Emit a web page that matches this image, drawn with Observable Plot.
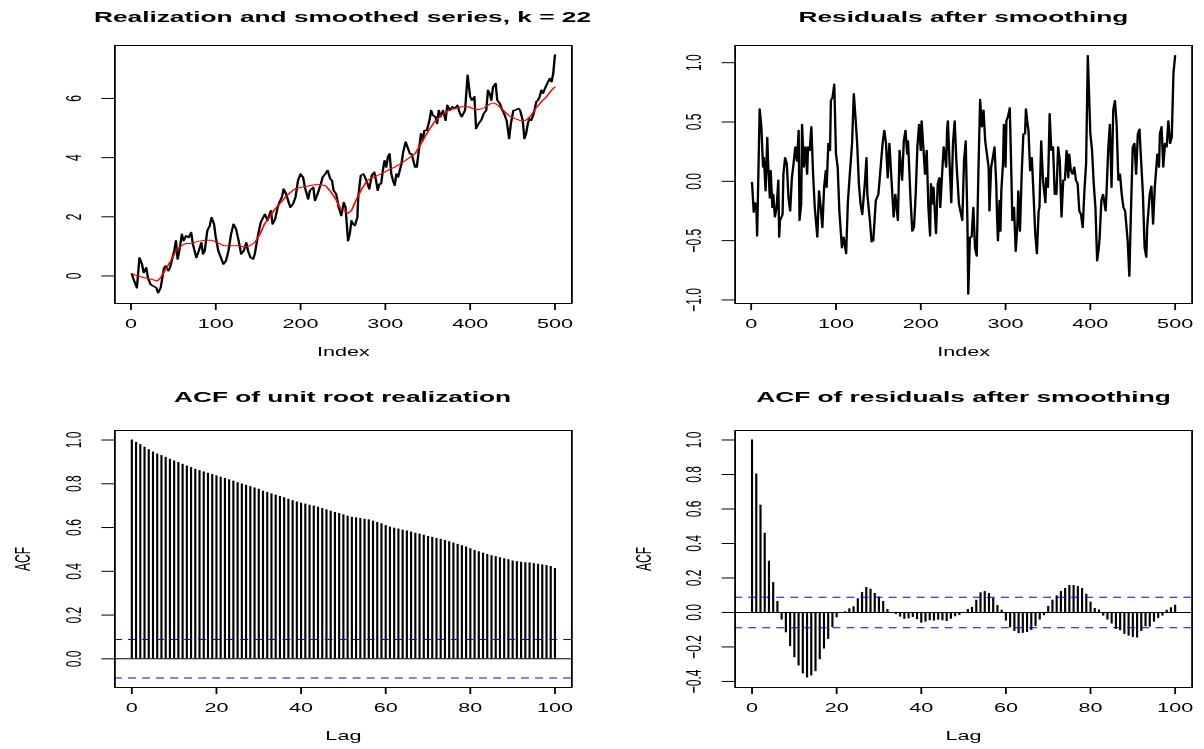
<!DOCTYPE html>
<html><head><meta charset="utf-8">
<script src="https://cdn.jsdelivr.net/npm/d3@7"></script>
<script src="https://cdn.jsdelivr.net/npm/@observablehq/plot@0.6"></script>
<style>
html,body{margin:0;padding:0;background:#fff;overflow:hidden;}
#stage{position:absolute;left:0;top:0;width:668.89px;height:749px;transform:scaleX(1.8);transform-origin:0 0;font-family:"Liberation Sans",Arial,Helvetica,sans-serif;}
.title{position:absolute;font-weight:bold;font-size:14.6px;line-height:14.6px;text-align:center;white-space:nowrap;color:#000;}
</style></head><body><div id="stage"></div>
<script>
// ---------------- data ----------------
const titles = ["Realization and smoothed series, k = 22", "Residuals after smoothing", "ACF of unit root realization", "ACF of residuals after smoothing"];
const indexTicks = [0, 100, 200, 300, 400, 500];
const lagTicks = [0, 20, 40, 60, 80, 100];
const realTicks = [0, 2, 4, 6];
const residTicks = [-1.0, -0.5, 0.0, 0.5, 1.0];
const acfRealTicks = [0.0, 0.2, 0.4, 0.6, 0.8, 1.0];
const acfResidTicks = [-0.4, -0.2, 0.0, 0.2, 0.4, 0.6, 0.8, 1.0];

// realization [index, value]
const realization = [[1,0.08],[3,-0.11],[7,-0.40],[10,0.62],[13,0.40],[15,0.11],[18,0.28],[20,-0.06],[23,-0.28],[26,-0.34],[30,-0.40],[32,-0.57],[35,-0.40],[37,-0.06],[39,0.28],[41,0.34],[44,0.17],[46,0.28],[51,0.85],[53,1.19],[55,0.57],[57,0.85],[60,1.41],[62,1.19],[65,1.36],[68,1.30],[71,1.47],[73,1.08],[77,0.62],[80,0.85],[83,1.13],[85,0.74],[87,0.85],[90,1.53],[93,1.70],[95,1.98],[98,1.75],[100,1.30],[103,0.85],[106,0.62],[109,0.40],[112,0.51],[115,0.85],[118,1.41],[121,1.75],[124,1.58],[127,1.19],[130,0.74],[133,0.85],[136,1.13],[138,0.85],[141,0.62],[144,0.57],[146,0.74],[150,1.41],[153,1.81],[156,1.98],[158,2.09],[161,1.87],[165,2.21],[167,1.75],[170,1.92],[173,2.32],[175,2.49],[178,2.66],[180,2.94],[183,2.77],[186,2.49],[188,2.32],[191,2.43],[194,2.66],[197,3.23],[200,3.45],[203,3.34],[205,3.00],[209,2.60],[211,2.89],[215,3.00],[217,2.55],[220,2.77],[224,3.11],[226,3.34],[229,3.45],[232,3.57],[235,3.28],[237,3.23],[239,2.89],[242,2.77],[245,2.32],[248,2.04],[251,2.49],[253,2.32],[256,1.19],[258,1.41],[260,1.87],[262,1.75],[264,1.70],[267,1.98],[268,2.66],[271,3.40],[274,3.45],[276,3.34],[279,3.11],[281,2.94],[284,3.40],[287,3.51],[289,3.23],[291,2.89],[293,3.11],[295,3.11],[297,3.57],[299,3.90],[301,3.68],[303,4.02],[305,4.13],[307,3.45],[309,3.23],[311,3.06],[313,3.45],[315,3.34],[317,3.57],[319,3.79],[321,4.19],[324,4.53],[326,4.36],[329,4.13],[331,4.13],[333,3.90],[335,3.68],[337,3.68],[339,4.13],[342,4.81],[344,4.58],[346,4.92],[349,4.92],[352,5.26],[354,5.60],[356,5.43],[359,5.38],[361,5.15],[363,5.60],[365,5.38],[368,5.60],[371,5.26],[373,5.77],[376,5.60],[379,5.72],[382,5.66],[385,5.77],[388,5.49],[390,5.38],[394,5.60],[397,6.79],[400,6.06],[402,5.94],[405,6.06],[407,4.98],[410,5.15],[413,5.26],[416,5.49],[419,5.60],[421,6.28],[423,6.17],[425,5.94],[427,6.39],[430,6.51],[432,5.94],[435,5.83],[438,5.60],[440,5.49],[443,5.26],[446,4.64],[448,5.15],[451,5.60],[453,5.60],[457,5.66],[459,5.60],[462,5.26],[464,4.64],[466,4.81],[468,5.15],[470,5.32],[472,5.26],[475,5.49],[478,5.89],[480,5.94],[482,6.06],[484,6.28],[486,6.17],[489,6.39],[491,6.51],[494,6.68],[496,6.56],[498,6.85],[500,7.47]];

// smoothed series (k = 22) [index, value]
const smoothed = [[1,0.08],[8,0.00],[16,-0.06],[24,-0.11],[31,-0.17],[35,-0.06],[41,0.23],[47,0.51],[53,0.85],[59,1.02],[65,1.10],[71,1.10],[79,1.17],[87,1.21],[95,1.21],[102,1.13],[110,1.02],[118,1.02],[126,1.02],[134,0.98],[140,1.02],[146,1.13],[152,1.41],[157,1.73],[163,1.98],[169,2.23],[177,2.49],[185,2.75],[193,2.94],[201,3.00],[209,3.04],[217,3.08],[224,3.09],[230,3.04],[236,2.83],[242,2.57],[248,2.23],[252,2.21],[256,2.12],[260,2.21],[266,2.60],[272,2.94],[279,3.23],[287,3.36],[295,3.45],[303,3.57],[311,3.68],[319,3.81],[327,3.97],[335,4.13],[342,4.47],[350,4.87],[358,5.21],[366,5.43],[374,5.58],[382,5.66],[390,5.72],[398,5.72],[405,5.63],[411,5.63],[417,5.69],[423,5.81],[428,5.85],[433,5.77],[439,5.60],[445,5.43],[453,5.32],[460,5.24],[466,5.26],[472,5.43],[478,5.69],[484,5.89],[490,6.06],[496,6.28],[500,6.39]];

// residuals [index, value]
const residuals = [[1,-0.01],[3,-0.26],[4,-0.18],[6,-0.19],[7,-0.46],[8,-0.11],[10,0.61],[12,0.46],[14,0.12],[15,0.20],[17,-0.08],[19,0.37],[20,0.15],[22,-0.14],[23,0.09],[25,-0.22],[26,-0.11],[28,-0.30],[30,-0.22],[32,0.01],[33,-0.47],[34,-0.33],[37,-0.28],[38,0.06],[40,0.20],[42,0.15],[44,-0.14],[46,-0.25],[48,0.03],[50,0.15],[52,0.29],[54,0.17],[56,0.43],[57,-0.33],[59,-0.19],[60,0.48],[62,0.12],[64,0.29],[66,0.06],[67,0.29],[69,0.26],[71,0.46],[73,0.06],[75,-0.22],[78,-0.47],[80,-0.08],[82,-0.22],[84,-0.39],[86,-0.05],[88,0.09],[89,-0.05],[91,0.32],[93,0.26],[94,0.68],[96,0.71],[98,0.82],[100,0.23],[102,0.12],[104,-0.25],[107,-0.56],[109,-0.47],[112,-0.61],[114,-0.18],[116,0.03],[119,0.32],[121,0.74],[123,0.54],[125,0.32],[127,-0.02],[129,-0.19],[131,-0.28],[134,-0.02],[136,0.20],[137,-0.11],[140,-0.33],[142,-0.51],[144,-0.50],[147,-0.16],[150,-0.11],[152,0.06],[155,0.32],[157,0.43],[159,0.32],[161,0.03],[163,0.32],[166,-0.05],[168,-0.30],[170,-0.11],[173,-0.33],[175,0.26],[178,0.01],[180,0.34],[182,0.43],[184,0.23],[185,0.34],[188,-0.16],[190,-0.42],[192,-0.39],[194,-0.11],[196,0.29],[198,0.48],[200,0.26],[201,0.51],[203,0.29],[205,0.06],[207,0.26],[209,-0.22],[211,-0.46],[212,-0.02],[214,-0.19],[215,-0.05],[218,-0.44],[220,-0.02],[222,0.03],[223,-0.22],[226,0.17],[227,0.29],[230,0.12],[231,0.43],[232,0.51],[234,0.15],[236,-0.18],[238,0.32],[240,0.51],[242,0.17],[245,-0.19],[247,-0.26],[249,-0.33],[251,0.17],[253,0.34],[255,-0.33],[256,-0.95],[258,-0.47],[260,-0.47],[262,-0.22],[264,-0.56],[266,-0.63],[268,0.09],[270,0.69],[272,0.46],[274,0.60],[276,0.34],[278,0.23],[280,0.12],[281,-0.25],[283,0.12],[285,0.20],[287,0.29],[289,-0.02],[290,-0.30],[291,-0.50],[293,-0.16],[294,-0.42],[295,-0.08],[297,0.15],[298,0.48],[300,0.12],[301,0.51],[303,0.55],[305,0.62],[307,0.01],[308,-0.33],[310,-0.22],[312,-0.59],[314,-0.36],[315,-0.08],[317,-0.42],[319,0.06],[321,0.40],[323,0.40],[324,0.61],[326,0.48],[327,0.43],[329,0.09],[331,0.20],[333,-0.11],[335,-0.44],[337,-0.61],[339,-0.25],[340,-0.22],[342,0.34],[344,0.03],[345,-0.05],[347,-0.18],[348,0.03],[350,-0.05],[352,0.57],[354,0.26],[356,0.29],[358,-0.11],[360,-0.11],[362,0.29],[364,0.17],[366,-0.30],[368,0.01],[370,0.01],[372,0.26],[374,0.03],[375,0.23],[377,0.09],[379,0.06],[381,0.12],[383,0.01],[385,-0.02],[387,-0.25],[389,-0.28],[391,-0.39],[393,-0.08],[395,0.15],[397,1.06],[400,0.40],[402,0.26],[404,-0.02],[406,-0.22],[408,-0.67],[410,-0.56],[411,-0.47],[413,-0.16],[415,-0.11],[418,-0.25],[419,-0.11],[421,0.26],[423,0.48],[425,-0.05],[427,0.60],[429,0.68],[431,0.48],[433,0.01],[435,0.06],[437,-0.11],[439,-0.22],[441,-0.25],[444,-0.50],[446,-0.80],[448,-0.22],[450,0.29],[452,0.32],[454,0.06],[456,0.40],[458,0.44],[459,0.29],[462,-0.11],[464,-0.56],[466,-0.64],[467,-0.39],[470,-0.11],[472,-0.04],[474,-0.36],[476,-0.05],[479,0.23],[481,0.12],[482,0.40],[484,0.46],[486,0.12],[488,0.32],[490,0.29],[492,0.51],[494,0.32],[496,0.37],[498,0.91],[500,1.06]];

// autocorrelations, lags 0..100
const acfRealization = [1.000,0.989,0.979,0.967,0.956,0.945,0.936,0.929,0.921,0.912,
0.904,0.897,0.889,0.881,0.874,0.866,0.860,0.854,0.848,0.842,
0.836,0.830,0.824,0.818,0.812,0.805,0.799,0.793,0.787,0.781,
0.775,0.766,0.760,0.754,0.748,0.742,0.736,0.729,0.723,0.717,
0.711,0.707,0.702,0.698,0.693,0.687,0.681,0.675,0.669,0.664,
0.658,0.652,0.647,0.644,0.641,0.638,0.635,0.629,0.623,0.617,
0.609,0.602,0.597,0.593,0.588,0.584,0.579,0.574,0.570,0.565,
0.559,0.555,0.550,0.546,0.541,0.535,0.529,0.523,0.517,0.511,
0.503,0.495,0.489,0.483,0.477,0.471,0.467,0.462,0.457,0.453,
0.447,0.444,0.441,0.439,0.438,0.435,0.432,0.429,0.426,0.422,
0.413];
const acfResiduals = [1.000,0.803,0.622,0.459,0.297,0.173,0.064,-0.044,-0.118,-0.198,
-0.262,-0.310,-0.356,-0.380,-0.368,-0.343,-0.274,-0.212,-0.156,-0.087,
-0.031,-0.004,0.004,0.021,0.033,0.079,0.116,0.145,0.135,0.110,
0.089,0.064,0.017,-0.004,-0.012,-0.027,-0.040,-0.037,-0.029,-0.042,
-0.062,-0.056,-0.048,-0.050,-0.044,-0.048,-0.052,-0.039,-0.025,-0.017,
-0.004,0.017,0.029,0.071,0.114,0.121,0.110,0.081,0.040,0.013,
-0.050,-0.089,-0.110,-0.123,-0.121,-0.116,-0.104,-0.081,-0.044,-0.019,
0.035,0.071,0.096,0.121,0.139,0.156,0.156,0.150,0.139,0.106,
0.060,0.023,0.015,-0.021,-0.044,-0.067,-0.098,-0.106,-0.127,-0.137,
-0.145,-0.148,-0.110,-0.083,-0.085,-0.056,-0.035,-0.021,0.013,0.027,
0.042];
const ciBound = 0.088; // dashed significance bounds (±)

// ---------------- drawing ----------------
const FONT = '"Liberation Sans", Arial, Helvetica, sans-serif';
const stage = document.getElementById("stage");
const PW = 334.44; // panel width in unscaled units (page is stretched 1.8x horizontally)
const fmt1 = d3.format(".1f");

function panel(o) {
  const marks = [
    ...o.marks,
    Plot.frame({stroke: "black", strokeWidth: 1}),
    Plot.axisX({ticks: o.xTicks, tickSize: 7, tickPadding: 9, tickFormat: d => String(d), label: null}),
    Plot.axisY({ticks: o.yTicks, tickSize: 7, tickPadding: 12, tickRotate: -90, textAnchor: "middle", lineAnchor: "bottom", tickFormat: o.yFmt, label: null}),
    Plot.text([o.xLabel], {text: d => d, frameAnchor: "bottom", dy: 44, lineAnchor: "top"})
  ];
  if (o.yLabel) marks.push(Plot.text([o.yLabel], {text: d => d, frameAnchor: "left", dx: -47, rotate: -90, textAnchor: "middle", lineAnchor: "bottom"}));
  const svg = Plot.plot({
    width: PW, height: o.height,
    marginTop: o.mt, marginBottom: o.mb, marginLeft: o.ml, marginRight: o.mr,
    x: {domain: o.xDomain},
    y: {domain: o.yDomain},
    style: {fontFamily: FONT, fontSize: "12px", background: "transparent", color: "black", overflow: "visible"},
    marks
  });
  svg.style.position = "absolute";
  svg.style.left = o.left + "px";
  svg.style.top = o.top + "px";
  stage.appendChild(svg);
  // title centred over the plotting box
  const t = document.createElement("div");
  t.className = "title";
  t.textContent = o.title;
  const cx = o.left + (o.ml + PW - o.mr) / 2;
  t.style.left = (cx - 200) + "px";
  t.style.width = "400px";
  t.style.top = o.titleTop + "px";
  stage.appendChild(t);
}

const lags = acfRealization.map((_, i) => i);
const idxDomain = [-18.96, 519.96];
const lagDomain = [-4, 104];

panel({
  left: 0, top: 30, height: 344, mt: 15, mb: 71, ml: 63.33, mr: 17.22, titleTop: 9.9,
  title: titles[0], xDomain: idxDomain, yDomain: [-0.93, 7.79],
  xTicks: indexTicks, yTicks: realTicks, yFmt: d => String(d), xLabel: "Index",
  marks: [
    Plot.line(realization, {x: d => d[0], y: d => d[1], stroke: "black", strokeWidth: 1.3}),
    Plot.line(smoothed, {x: d => d[0], y: d => d[1], stroke: "red", strokeWidth: 1})
  ]
});

panel({
  left: PW, top: 30, height: 344, mt: 15, mb: 71, ml: 73.89, mr: 6.67, titleTop: 9.9,
  title: titles[1], xDomain: idxDomain, yDomain: [-1.03, 1.145],
  xTicks: indexTicks, yTicks: residTicks, yFmt: fmt1, xLabel: "Index",
  marks: [
    Plot.line(residuals, {x: d => d[0], y: d => d[1], stroke: "black", strokeWidth: 1.3})
  ]
});

panel({
  left: 0, top: 410, height: 339, mt: 20, mb: 62, ml: 63.33, mr: 17.22, titleTop: 389.9,
  title: titles[2], xDomain: lagDomain, yDomain: [-0.131, 1.0435],
  xTicks: lagTicks, yTicks: acfRealTicks, yFmt: fmt1, xLabel: "Lag", yLabel: "ACF",
  marks: [
    Plot.ruleX(acfRealization, {x: (d, i) => lags[i], y1: 0, y2: d => d, stroke: "black", strokeWidth: 1.2}),
    Plot.ruleY([0], {stroke: "black", strokeWidth: 1}),
    Plot.ruleY([ciBound, -ciBound], {stroke: "blue", strokeWidth: 1, strokeDasharray: "4.4,3.4"})
  ]
});

panel({
  left: PW, top: 410, height: 339, mt: 20, mb: 62, ml: 73.89, mr: 6.67, titleTop: 389.9,
  title: titles[3], xDomain: lagDomain, yDomain: [-0.435, 1.055],
  xTicks: lagTicks, yTicks: acfResidTicks, yFmt: fmt1, xLabel: "Lag", yLabel: "ACF",
  marks: [
    Plot.ruleX(acfResiduals, {x: (d, i) => lags[i], y1: 0, y2: d => d, stroke: "black", strokeWidth: 1.2}),
    Plot.ruleY([0], {stroke: "black", strokeWidth: 1}),
    Plot.ruleY([ciBound, -ciBound], {stroke: "blue", strokeWidth: 1, strokeDasharray: "4.4,3.4"})
  ]
});
</script></body></html>
